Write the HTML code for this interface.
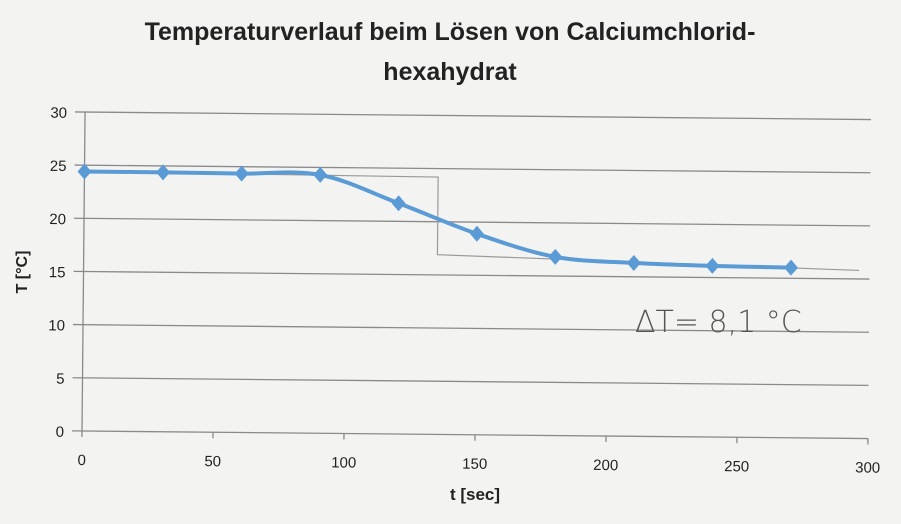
<!DOCTYPE html>
<html><head><meta charset="utf-8"><style>
body{margin:0;background:#f4f4f2;}
svg{display:block;font-family:"Liberation Sans",sans-serif;}
</style></head><body>
<svg width="901" height="524" viewBox="0 0 901 524">
<rect width="901" height="524" fill="#f3f3f1"/>
<text x="450" y="40" text-anchor="middle" font-size="25" font-weight="bold" fill="#222">Temperaturverlauf beim Lösen von Calciumchlorid-</text>
<text x="450" y="80" text-anchor="middle" font-size="25" font-weight="bold" fill="#222">hexahydrat</text>
<g id="plot" transform="rotate(0.55 82 431)"></g>
<text x="27" y="272" text-anchor="middle" font-size="16" font-weight="bold" fill="#222" transform="rotate(-90 27 272)">T [°C]</text>
<text x="475" y="500" text-anchor="middle" font-size="17" font-weight="bold" fill="#222">t [sec]</text>
<text x="635" y="332" font-size="30" fill="#555" font-family="'DejaVu Sans',sans-serif" font-weight="200">ΔT=  8,1 °C</text>
</svg>
<script>
const times=[0,30,60,90,120,150,180,210,240,270];
const temps=[24.4,24.4,24.35,24.3,21.7,18.9,16.8,16.3,16.1,16.0];
const yTicks=[0,5,10,15,20,25,30];
const xTicks=[0,50,100,150,200,250,300];
const NS="http://www.w3.org/2000/svg";
const g=document.getElementById('plot');
const X=v=>82+v*786/300;
const Y=v=>431-v*319/30;
function mk(t,a,p){const e=document.createElementNS(NS,t);for(const k in a)e.setAttribute(k,a[k]);(p||g).appendChild(e);return e;}
yTicks.forEach(v=>{
 const l=mk('line',{x1:72,x2:868,y1:Y(v),y2:Y(v),stroke:'#8a8a8a','stroke-width':1.3});
 
 
 const t=mk('text',{x:64,y:Y(v)+6,'text-anchor':'end','font-size':15,fill:'#222'});
 t.textContent=v;
 
 
});
const ax=mk('line',{x1:82,x2:82,y1:Y(30),y2:Y(0),stroke:'#8a8a8a','stroke-width':1.3});


xTicks.forEach(v=>{
 const l=mk('line',{x1:X(v),x2:X(v),y1:Y(0),y2:Y(0)+6,stroke:'#8a8a8a','stroke-width':1.3});
 
 
 const t=mk('text',{x:X(v),y:Y(0)+34,'text-anchor':'middle','font-size':15,fill:'#222'});
 t.textContent=v;
 
 
});
const a1=mk('polyline',{points:`${X(0)},${Y(temps[0])} ${X(135)},${Y(24.2)} ${X(135)},${Y(16.9)} ${X(296)},${Y(15.8)}`,fill:'none',stroke:'#999','stroke-width':1.2});


const P=times.map((t,i)=>[X(t),Y(temps[i])]);
let d=`M${P[0][0]},${P[0][1]}`;
for(let i=0;i<P.length-1;i++){
 const p0=P[Math.max(i-1,0)],p1=P[i],p2=P[i+1],p3=P[Math.min(i+2,P.length-1)];
 d+=` C${p1[0]+(p2[0]-p0[0])/6},${p1[1]+(p2[1]-p0[1])/6} ${p2[0]-(p3[0]-p1[0])/6},${p2[1]-(p3[1]-p1[1])/6} ${p2[0]},${p2[1]}`;
}
const line=mk('path',{d:d,fill:'none',stroke:'#5b9bd5','stroke-width':4});


P.forEach(p=>{
 const m=mk('path',{d:`M${p[0]},${p[1]-8} L${p[0]+7},${p[1]} L${p[0]},${p[1]+8} L${p[0]-7},${p[1]} Z`,fill:'#5b9bd5'});
 
 
});
</script>
</body></html>
